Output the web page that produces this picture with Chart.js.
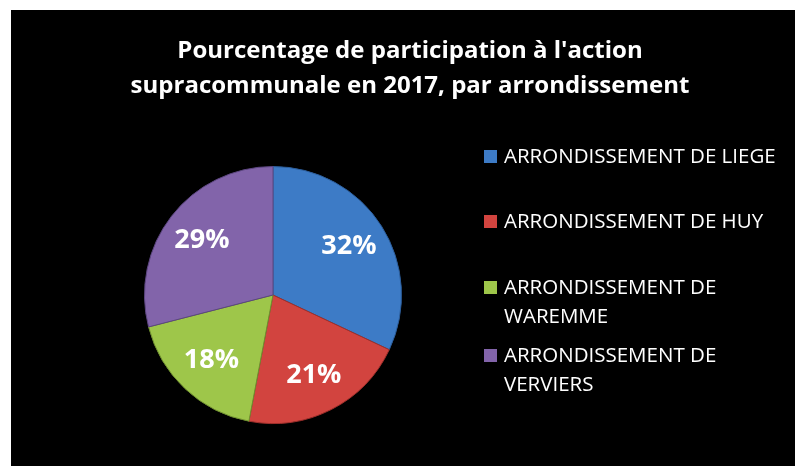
<!DOCTYPE html>
<html>
<head>
<meta charset="utf-8">
<script src="https://cdn.jsdelivr.net/npm/chart.js@4"></script>
<style>
  html, body { margin: 0; padding: 0; background: #ffffff; }
  #box { position: absolute; left: 11px; top: 10px; width: 784px; height: 456px; background: #000000; }
</style>
</head>
<body>
<div id="box"><canvas id="pieChart" width="784" height="456"></canvas></div>
<script>
var titleLines = ["Pourcentage de participation à l'action", 'supracommunale en 2017, par arrondissement'];
var arrondissements = ['ARRONDISSEMENT DE LIEGE', 'ARRONDISSEMENT DE HUY', 'ARRONDISSEMENT DE WAREMME', 'ARRONDISSEMENT DE VERVIERS'];
var legendLines = [['ARRONDISSEMENT DE LIEGE'], ['ARRONDISSEMENT DE HUY'], ['ARRONDISSEMENT DE', 'WAREMME'], ['ARRONDISSEMENT DE', 'VERVIERS']];
var participation = [32, 21, 18, 29];
var sliceColors = ['#3d7bc6', '#d2443f', '#9ec64a', '#8264aa'];
var edgeColors = ['#2c5d9a', '#9e2f2b', '#6f8f2f', '#5c4680'];

// title text, drawn centered over the whole box
var titlePlugin = {
    id: 'twoLineTitle',
    afterDraw: function (chart) {
        var ctx = chart.ctx;
        ctx.save();
        ctx.fillStyle = '#ffffff';
        ctx.font = 'bold 24px "Open Sans"';
        ctx.textAlign = 'center';
        ctx.textBaseline = 'middle';
        ctx.fillText(titleLines[0], 399, 41);
        ctx.fillText(titleLines[1], 399, 76);
        ctx.restore();
    }
};

// percentages inside the slices
var valueLabels = {
    id: 'valueLabels',
    afterDatasetsDraw: function (chart) {
        var ctx = chart.ctx;
        var meta = chart.getDatasetMeta(0);
        ctx.save();
        ctx.fillStyle = '#ffffff';
        ctx.font = 'bold 27px "Open Sans"';
        ctx.textAlign = 'center';
        ctx.textBaseline = 'middle';
        meta.data.forEach(function (arc, i) {
            var p = arc.getProps(['x', 'y', 'startAngle', 'endAngle', 'outerRadius'], true);
            var mid = (p.startAngle + p.endAngle) / 2;
            var r = p.outerRadius * 0.7;
            ctx.fillText(participation[i] + '%', p.x + Math.cos(mid) * r, p.y + Math.sin(mid) * r);
        });
        ctx.restore();
    }
};

// legend on the right, with wrapped labels
var sideLegend = {
    id: 'sideLegend',
    afterDraw: function (chart) {
        var ctx = chart.ctx;
        var rows = [146, 211, 277, 345];
        ctx.save();
        ctx.font = '20.5px "Open Sans"';
        ctx.textBaseline = 'middle';
        ctx.textAlign = 'left';
        legendLines.forEach(function (lines, i) {
            ctx.fillStyle = sliceColors[i];
            ctx.fillRect(473, rows[i] - 6, 13, 13);
            ctx.fillStyle = '#ffffff';
            lines.forEach(function (t, j) {
                ctx.fillText(t, 493, rows[i] + 1 + j * 29);
            });
        });
        ctx.restore();
    }
};

var ctx = document.getElementById('pieChart').getContext('2d');
new Chart(ctx, {
    type: 'pie',
    data: {
        labels: arrondissements,
        datasets: [{
            data: participation,
            backgroundColor: sliceColors,
            borderColor: edgeColors,
            borderWidth: 1
        }]
    },
    options: {
        responsive: false,
        animation: false,
        layout: { padding: { left: 132, right: 392, top: 156, bottom: 42 } },
        plugins: {
            legend: { display: false },
            title: { display: false },
            tooltip: { enabled: false }
        }
    },
    plugins: [titlePlugin, valueLabels, sideLegend]
});
</script>
</body>
</html>
